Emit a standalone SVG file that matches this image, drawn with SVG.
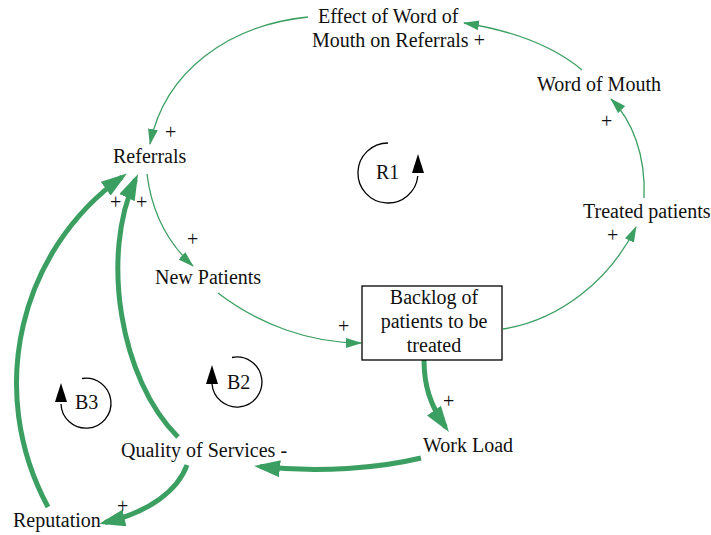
<svg xmlns="http://www.w3.org/2000/svg" width="711" height="535" viewBox="0 0 711 535">
<style>
text{font-family:"Liberation Serif","Times New Roman",serif;font-size:20px;fill:#111}
.thin{fill:none;stroke:#3c9f62;stroke-width:1.3}
.thick{fill:none;stroke:#3c9f62;stroke-width:5}
.loop{fill:none;stroke:#000;stroke-width:1.3}
</style>
<defs>
<marker id="ah" markerUnits="userSpaceOnUse" markerWidth="16" markerHeight="10" refX="15" refY="5" orient="auto" viewBox="0 0 16 10"><path d="M0,0 L16,5 L0,10 z" fill="#3c9f62"/></marker>
<marker id="ahb" markerUnits="userSpaceOnUse" markerWidth="26" markerHeight="17" refX="20" refY="8.5" orient="auto" viewBox="0 0 26 17"><path d="M0,0 L26,8.5 L0,17 z" fill="#3c9f62"/></marker>
</defs>
<rect width="711" height="535" fill="#fff"/>
<g id="connectors">
<path class="thin" d="M582,70 Q540,35 464,23" marker-end="url(#ah)"/>
<path class="thin" d="M308,17 C230,25 165,70 150,144" marker-end="url(#ah)"/>
<path class="thin" d="M644,198 C646,155 632,120 611,99" marker-end="url(#ah)"/>
<path class="thin" d="M503,329 C560,320 610,280 636,227" marker-end="url(#ah)"/>
<path class="thin" d="M147,174 C152,215 170,245 193,266" marker-end="url(#ah)"/>
<path class="thin" d="M218,293 C260,325 310,343 361,343" marker-end="url(#ah)"/>
<path class="thick" d="M424,360 C424,385 430,405 445.5,427" marker-end="url(#ahb)"/>
<path class="thick" d="M421,458 C380,468 320,473 260,466.6" marker-end="url(#ahb)"/>
<path class="thick" d="M178,437 C120,380 100,255 135.5,179.5" marker-end="url(#ahb)"/>
<path class="thick" d="M48,507 C-15,390 20,250 122,177" marker-end="url(#ahb)"/>
<path class="thick" d="M187,465 C178,490 150,512 105,522.5" marker-end="url(#ahb)"/>
</g>
<g id="effect"><text x="318" y="23">Effect of Word of</text><text x="312" y="47">Mouth on Referrals +</text></g>
<g id="word-of-mouth"><text x="537" y="91">Word of Mouth</text></g>
<g id="treated"><text x="583" y="218">Treated patients</text></g>
<g id="referrals"><text x="113" y="163">Referrals</text></g>
<g id="new-patients"><text x="155" y="284">New Patients</text></g>
<g id="backlog"><rect x="362" y="286" width="140" height="74" fill="#fff" stroke="#000" stroke-width="1.3"/>
<text x="434" y="304" text-anchor="middle">Backlog of</text><text x="434" y="328" text-anchor="middle">patients to be</text><text x="434" y="352" text-anchor="middle">treated</text></g>
<g id="work-load"><text x="423" y="452">Work Load</text></g>
<g id="quality"><text x="121" y="457">Quality of Services -</text></g>
<g id="reputation"><text x="13" y="527">Reputation</text></g>
<g id="polarities">
<text x="165" y="139">+</text>
<text x="601" y="128">+</text>
<text x="607" y="242">+</text>
<text x="110" y="209">+</text>
<text x="136" y="209">+</text>
<text x="187" y="246">+</text>
<text x="338" y="333">+</text>
<text x="443" y="408">+</text>
<text x="117" y="513">+</text>
</g>
<g id="loop-R1"><path class="loop" d="M388,143 A30,30 0 1 0 417.8,176"/><path d="M412,173 L424,173 L418,154 z"/><text x="376" y="179">R1</text></g>
<g id="loop-B2"><path class="loop" d="M232,357.5 A25,25 0 1 1 212,384"/><path d="M206,384 L218,384 L212,365 z"/><text x="227" y="389">B2</text></g>
<g id="loop-B3"><path class="loop" d="M82,378.5 A25,25 0 1 1 61,404"/><path d="M55,402 L67,402 L61,383 z"/><text x="75" y="409">B3</text></g>
</svg>
